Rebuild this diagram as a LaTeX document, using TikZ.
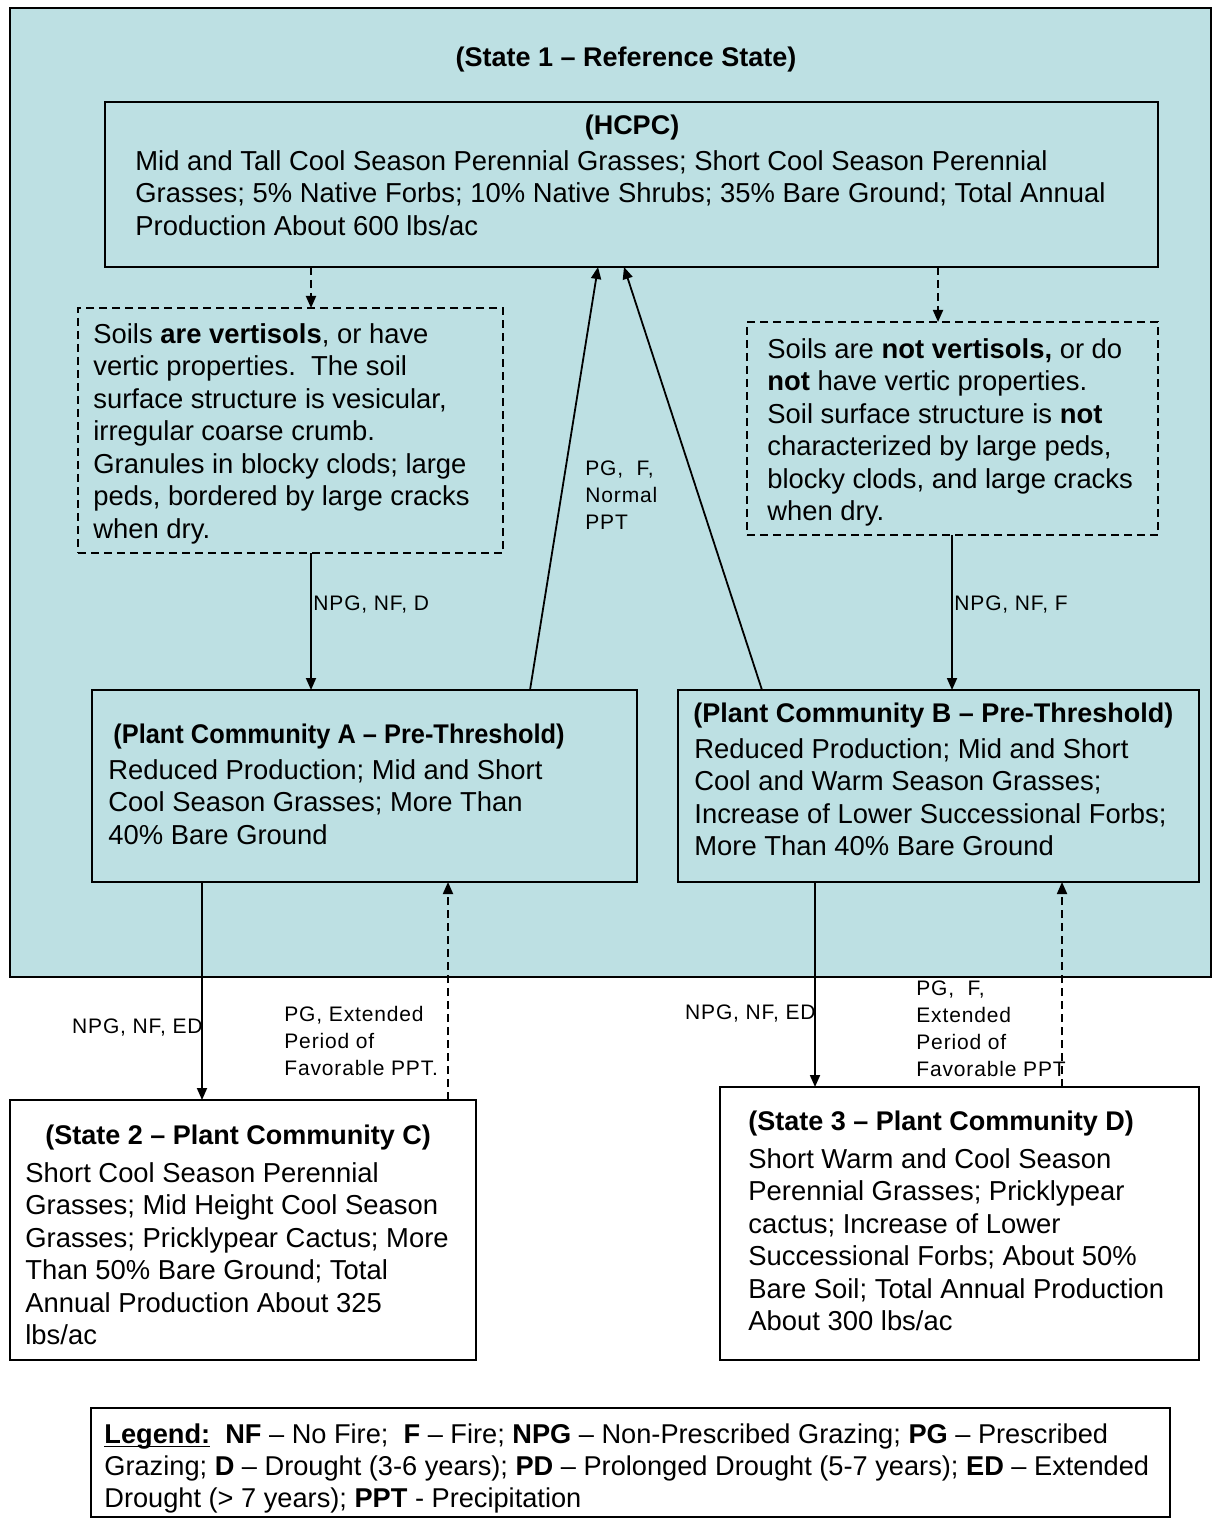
\documentclass[tikz,border=0pt]{standalone}
\usepackage{fontspec}
\usepackage{graphicx}
\setmainfont{Liberation Sans}
\newfontfamily\lblfont[LetterSpace=4]{Liberation Sans}
\usetikzlibrary{arrows.meta}
\definecolor{stateblue}{RGB}{189,224,227}
\tikzset{
 box/.style={draw=black, line width=1pt, inner sep=0pt, outer sep=0pt},
 dbox/.style={draw=black, line width=0.8pt, dash pattern=on 4pt off 2.5pt, inner sep=0pt, outer sep=0pt},
 txt/.style={anchor=north west, inner sep=0pt, align=left, font=\fontsize{13.7}{16.25}\selectfont},
 ttl/.style={inner sep=0pt, font=\fontsize{13.5}{16.25}\selectfont\bfseries},
 lbl/.style={inner sep=0pt, align=left, font=\lblfont\fontsize{10.5}{13.5}\selectfont},
 leg/.style={anchor=north west, inner sep=0pt, align=left, font=\fontsize{13.6}{16}\selectfont},
 arr/.style={line width=0.9pt, -{Triangle[length=6pt,width=5pt]}},
 darr/.style={arr, dash pattern=on 4pt off 2.5pt},
}
\begin{document}
\begin{tikzpicture}[x=0.5pt,y=-0.5pt]
\useasboundingbox (0,0) rectangle (1212,1518);
\fill[white] (0,0) rectangle (1212,1518);
% boxes
\node[box, fill=stateblue, minimum width=600.5pt, minimum height=484.5pt] (state1) at (610.5,492.5) {};
\node[box, fill=stateblue, minimum width=526.5pt, minimum height=82.5pt] (hcpc) at (631.5,184.5) {};
\node[dbox, minimum width=212.5pt, minimum height=122.5pt] (lsoil) at (290.5,430.5) {};
\node[dbox, minimum width=205.5pt, minimum height=106.5pt] (rsoil) at (952.5,428.5) {};
\node[box, fill=stateblue, minimum width=272.5pt, minimum height=96pt] (pca) at (364.5,786) {};
\node[box, fill=stateblue, minimum width=260.5pt, minimum height=96pt] (pcb) at (938.5,786) {};
\node[box, fill=white, minimum width=233pt, minimum height=130pt] (st2) at (243,1230) {};
\node[box, fill=white, minimum width=239.5pt, minimum height=136.5pt] (st3) at (959.5,1223.5) {};
\node[box, fill=white, minimum width=539.5pt, minimum height=54.5pt] (legbox) at (630.5,1462.5) {};
% texts
\node[ttl] (t1) at (626,60) {(State 1 -- Reference State)};
\node[ttl] (thcpc) at (632,128) {(HCPC)};
\node[txt] (bhcpc) at (135,150) {Mid and Tall Cool Season Perennial Grasses; Short Cool Season Perennial\\Grasses; 5\% Native Forbs; 10\% Native Shrubs; 35\% Bare Ground; Total Annual\\Production About 600 lbs/ac};
\node[txt] (blsoil) at (93,323) {Soils \textbf{are vertisols}, or have\\vertic properties.\ \ The soil\\surface structure is vesicular,\\irregular coarse crumb.\\Granules in blocky clods; large\\peds, bordered by large cracks\\when dry.};
\node[txt] (brsoil) at (767,338) {Soils are \textbf{not vertisols,} or do\\\textbf{not} have vertic properties.\\Soil surface structure is \textbf{not}\\characterized by large peds,\\blocky clods, and large cracks\\when dry.};
\node[ttl, anchor=west] (tpca) at (113,737) {\scalebox{0.94}[1]{(Plant Community A -- Pre-Threshold)}};
\node[txt] (bpca) at (108,759) {Reduced Production; Mid and Short\\Cool Season Grasses; More Than\\40\% Bare Ground};
\node[ttl, anchor=west] (tpcb) at (693,716) {(Plant Community B -- Pre-Threshold)};
\node[txt] (bpcb) at (694,738) {Reduced Production; Mid and Short\\Cool and Warm Season Grasses;\\Increase of Lower Successional Forbs;\\More Than 40\% Bare Ground};
\node[ttl, anchor=west] (tst2) at (45,1138) {(State 2 -- Plant Community C)};
\node[txt] (bst2) at (25,1162) {Short Cool Season Perennial\\Grasses; Mid Height Cool Season\\Grasses; Pricklypear Cactus; More\\Than 50\% Bare Ground; Total\\Annual Production About 325\\lbs/ac};
\node[ttl, anchor=west] (tst3) at (748,1124) {(State 3 -- Plant Community D)};
\node[txt] (bst3) at (748,1148) {Short Warm and Cool Season\\Perennial Grasses; Pricklypear\\cactus; Increase of Lower\\Successional Forbs; About 50\%\\Bare Soil; Total Annual Production\\About 300 lbs/ac};
\node[leg] (legtxt) at (104,1423) {\underline{\smash{\textbf{Legend:}}}\ \ \textbf{NF} -- No Fire;\ \ \textbf{F} -- Fire; \textbf{NPG} -- Non-Prescribed Grazing; \textbf{PG} -- Prescribed\\Grazing; \textbf{D} -- Drought (3-6 years); \textbf{PD} -- Prolonged Drought (5-7 years); \textbf{ED} -- Extended\\Drought (> 7 years); \textbf{PPT} - Precipitation};
% labels
\node[lbl, anchor=west] (l1) at (313,605) {NPG, NF, D};
\node[lbl, anchor=west] (l2) at (954,605) {NPG, NF, F};
\node[lbl, anchor=north west] (l3) at (585,460) {PG,\ \ F,\\Normal\\PPT};
\node[lbl, anchor=east] (l4) at (203,1028) {NPG, NF, ED};
\node[lbl, anchor=north west] (l5) at (284,1006) {PG, Extended\\Period of\\Favorable PPT.};
\node[lbl, anchor=east] (l6) at (816,1014) {NPG, NF, ED};
\node[lbl, anchor=north west] (l7) at (916,980) {PG,\ \ F,\\Extended\\Period of\\Favorable PPT};
% connectors
\draw[darr] (hcpc.south -| 311,0) -- (lsoil.north -| 311,0);
\draw[darr] (hcpc.south -| 938,0) -- (rsoil.north -| 938,0);
\draw[arr] (lsoil.south -| 311,0) -- (pca.north -| 311,0);
\draw[arr] (rsoil.south -| 952,0) -- (pcb.north -| 952,0);
\draw[arr] (pca.north -| 530,0) -- (hcpc.south -| 598,0);
\draw[arr] (pcb.north -| 762,0) -- (hcpc.south -| 624,0);
\draw[arr] (pca.south -| 202,0) -- (st2.north -| 202,0);
\draw[darr] (st2.north -| 448,0) -- (pca.south -| 448,0);
\draw[arr] (pcb.south -| 815,0) -- (st3.north -| 815,0);
\draw[darr] (st3.north -| 1062,0) -- (pcb.south -| 1062,0);
\end{tikzpicture}
\end{document}
